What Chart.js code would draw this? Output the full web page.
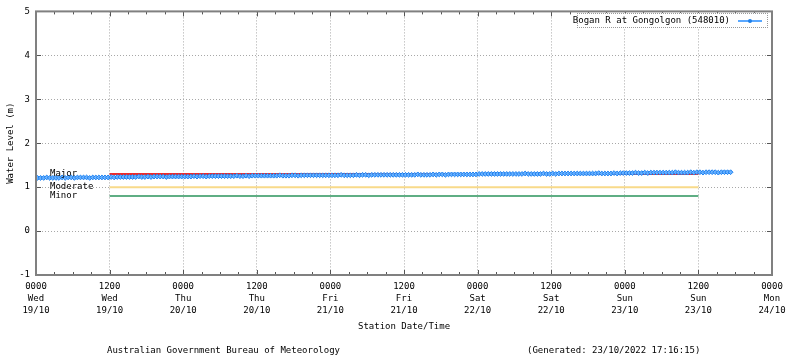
<!DOCTYPE html>
<html>
<head>
<meta charset="utf-8">
<script src="https://cdn.jsdelivr.net/npm/chart.js@4/dist/chart.umd.min.js"></script>
<style>
  html, body { margin: 0; padding: 0; background: #fff; }
  #wrap { position: relative; width: 800px; height: 358px; overflow: hidden; }
  canvas { position: absolute; left: 0; top: 0; }
  .txt { position: absolute; font-family: "DejaVu Sans Mono", "Liberation Mono", monospace; font-size: 9px; color: #000; white-space: nowrap; line-height: 12px; }
  #legend { position: absolute; left: 577px; top: 13px; width: 189px; height: 13px; border: 1px dotted #999; background: #fff; font-family: "DejaVu Sans Mono", monospace; font-size: 9px; line-height: 13px; white-space: nowrap; }
  #legend .lab { position: absolute; right: 37px; top: 0; white-space: nowrap; }
  #legend .ln { position: absolute; left: 160px; top: 6px; width: 24px; height: 2px; background: #5aa8ff; }
  #legend .dot { position: absolute; left: 170px; top: 5px; width: 4px; height: 4px; background: #1e7fe8; border-radius: 2px; }
</style>
</head>
<body>
<div id="wrap">
  <canvas id="c" width="800" height="358"></canvas>
  <div id="legend"><span class="lab">Bogan R at Gongolgon (548010)</span><span class="ln"></span><span class="dot"></span></div>
  <div class="txt" id="xtitle" style="left:358px; top:320px;">Station Date/Time</div>
  <div class="txt" id="foot1" style="left:107px; top:344px;">Australian Government Bureau of Meteorology</div>
  <div class="txt" id="foot2" style="left:527px; top:344px;">(Generated: 23/10/2022 17:16:15)</div>
</div>
<script>
// ---- data ----
const seriesName = 'Bogan R at Gongolgon (548010)';
const startHour = 0.25;   // first reading, hours after 0000 Wed 19/10
const stepHours = 0.5;    // reading interval
const waterLevel = [
  1.21,1.21,1.21,1.22,1.21,1.21,1.21,1.21,1.22,1.21,1.22,1.22,1.21,1.22,1.22,1.22,1.22,1.21,1.22,1.22,1.22,1.22,1.22,1.22,
  1.23,1.22,1.23,1.23,1.23,1.23,1.23,1.23,1.23,1.24,1.23,1.23,1.24,1.23,1.24,1.24,1.24,1.24,1.23,1.24,1.24,1.24,1.24,1.24,
  1.24,1.24,1.24,1.25,1.24,1.25,1.25,1.24,1.25,1.25,1.25,1.25,1.25,1.25,1.25,1.25,1.25,1.26,1.25,1.25,1.26,1.25,1.26,1.26,
  1.26,1.26,1.26,1.26,1.26,1.26,1.26,1.27,1.26,1.26,1.26,1.27,1.27,1.26,1.27,1.27,1.27,1.27,1.27,1.27,1.27,1.27,1.27,1.27,
  1.27,1.27,1.27,1.28,1.27,1.27,1.27,1.27,1.28,1.27,1.28,1.28,1.27,1.28,1.28,1.28,1.28,1.28,1.28,1.28,1.28,1.28,1.28,1.28,
  1.28,1.28,1.28,1.28,1.29,1.28,1.28,1.28,1.28,1.29,1.28,1.29,1.29,1.28,1.29,1.29,1.29,1.29,1.29,1.29,1.29,1.29,1.29,1.29,
  1.30,1.30,1.30,1.30,1.30,1.30,1.30,1.30,1.30,1.30,1.30,1.30,1.30,1.30,1.30,1.31,1.30,1.30,1.30,1.30,1.30,1.31,1.30,1.30,
  1.31,1.30,1.31,1.31,1.31,1.31,1.31,1.31,1.31,1.31,1.31,1.31,1.31,1.31,1.31,1.32,1.31,1.31,1.31,1.31,1.32,1.31,1.32,1.32,
  1.32,1.32,1.32,1.33,1.32,1.32,1.33,1.32,1.33,1.33,1.33,1.33,1.33,1.33,1.33,1.33,1.34,1.33,1.33,1.33,1.33,1.34,1.33,1.34,
  1.34,1.33,1.34,1.34,1.34,1.34,1.33,1.34,1.34,1.34,1.34
];
const floodNames = ['Major', 'Moderate', 'Minor'];
const floodValues = [1.3, 1.0, 0.8];
const floodColors = ['#ee2a2a', '#f8da8a', '#5fae84'];
const floodStartHour = 12;
const floodEndHour = 108;
const tickTimes = ['0000','1200','0000','1200','0000','1200','0000','1200','0000','1200','0000'];
const tickDays  = ['Wed','Wed','Thu','Thu','Fri','Fri','Sat','Sat','Sun','Sun','Mon'];
const tickDates = ['19/10','19/10','20/10','20/10','21/10','21/10','22/10','22/10','23/10','23/10','24/10'];

// ---- chart ----
const FONT = '"DejaVu Sans Mono", "Liberation Mono", monospace';
const levelPoints = waterLevel.map((v, i) => ({ x: startHour + i * stepHours, y: v }));

const datasets = floodNames.map((n, i) => ({
  label: n,
  data: [{ x: floodStartHour, y: floodValues[i] }, { x: floodEndHour, y: floodValues[i] }],
  borderColor: floodColors[i],
  borderWidth: 2,
  pointRadius: 0,
  fill: false,
  order: 2
}));
datasets.push({
  label: seriesName,
  data: levelPoints,
  borderColor: '#1e90ff',
  backgroundColor: '#1e90ff',
  borderWidth: 1.5,
  pointStyle: 'rectRot',
  pointRadius: 2.4,
  pointBorderWidth: 1,
  pointBorderColor: '#1c80f0',
  pointBackgroundColor: '#6ab2ff',
  order: 1
});

const framePlugin = {
  id: 'frame',
  afterDatasetsDraw(chart) {
    const { ctx, chartArea: a, scales } = chart;
    ctx.save();
    ctx.font = '9px ' + FONT;
    ctx.fillStyle = '#000';
    ctx.textBaseline = 'middle';
    ctx.textAlign = 'left';
    floodNames.forEach((n, i) => {
      ctx.fillText(n, a.left + 14, scales.y.getPixelForValue(floodValues[i]));
    });
    ctx.strokeStyle = '#555';
    ctx.lineWidth = 1;
    ctx.beginPath();
    for (let h = 0; h <= 120; h += 3) {
      const x = Math.round(scales.x.getPixelForValue(h)) + 0.5;
      const len = (h % 12 === 0) ? 5 : 3;
      ctx.moveTo(x, a.bottom); ctx.lineTo(x, a.bottom - len);
      ctx.moveTo(x, a.top); ctx.lineTo(x, a.top + len);
    }
    for (let v = -1; v <= 5; v++) {
      const y = Math.round(scales.y.getPixelForValue(v)) + 0.5;
      ctx.moveTo(a.left, y); ctx.lineTo(a.left + 5, y);
      ctx.moveTo(a.right, y); ctx.lineTo(a.right - 5, y);
    }
    ctx.stroke();
    ctx.strokeStyle = '#808080';
    ctx.lineWidth = 2;
    ctx.strokeRect(a.left, a.top, a.right - a.left, a.bottom - a.top);
    ctx.restore();
  }
};

new Chart(document.getElementById('c'), {
  type: 'line',
  data: { datasets },
  options: {
    responsive: false,
    animation: false,
    layout: { padding: { left: 0, right: 28, top: 11, bottom: 0 } },
    plugins: { legend: { display: false }, tooltip: { enabled: false } },
    scales: {
      x: {
        type: 'linear',
        min: 0, max: 120,
        afterFit: s => { s.height = 83; },
        afterBuildTicks: s => { s.ticks = tickTimes.map((t, i) => ({ value: i * 12 })); },
        ticks: {
          autoSkip: false,
          maxRotation: 0,
          padding: 6,
          color: '#000',
          font: { family: FONT, size: 9, lineHeight: 1.333 },
          callback: (v, i) => [tickTimes[i], tickDays[i], tickDates[i]]
        },
        grid: { color: '#a8a8a8', lineWidth: 1, drawTicks: false },
        border: { display: false, dash: [1, 2] }
      },
      y: {
        min: -1, max: 5,
        afterFit: s => { s.width = 36; },
        ticks: {
          stepSize: 1,
          padding: 6,
          color: '#000',
          font: { family: FONT, size: 9 }
        },
        title: {
          display: true,
          text: 'Water Level (m)',
          color: '#000',
          font: { family: FONT, size: 9 },
          padding: { top: 5, bottom: 0 }
        },
        grid: { color: '#a8a8a8', lineWidth: 1, drawTicks: false },
        border: { display: false, dash: [1, 2] }
      }
    }
  },
  plugins: [framePlugin]
});
</script>
</body>
</html>
